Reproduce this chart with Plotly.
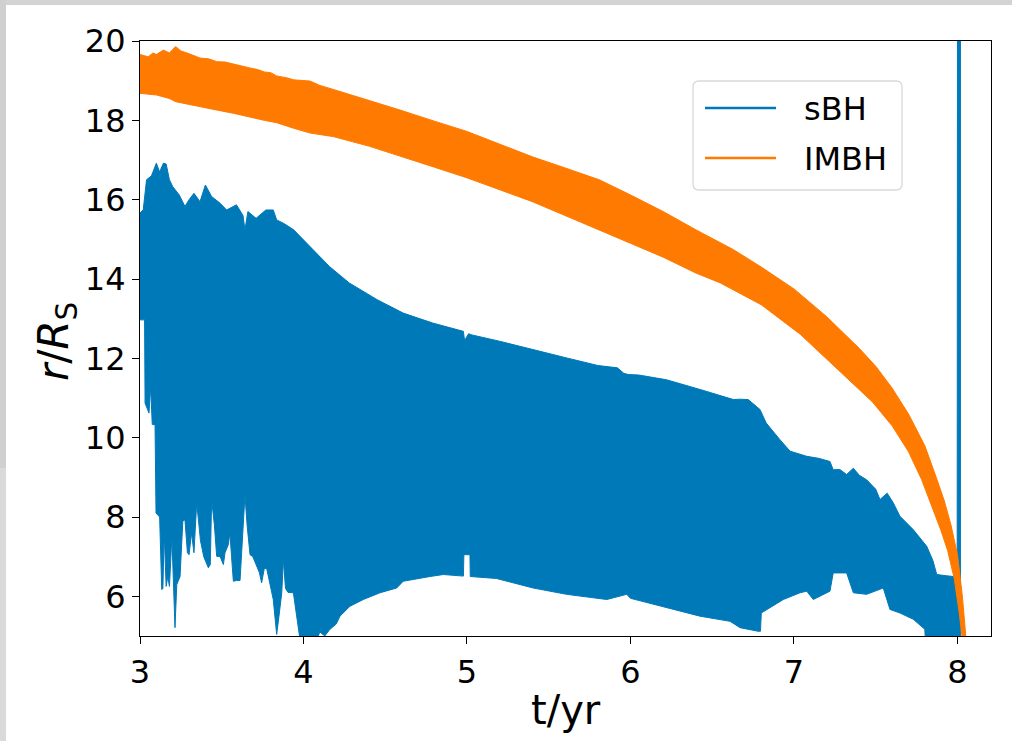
import plotly.graph_objects as go

# ---------------- data ----------------
# sBH: envelope of the fast radial oscillation (upper / lower edges)
SBH_T_UP = [3.000, 3.020, 3.040, 3.070, 3.100, 3.120, 3.143, 3.160, 3.180, 3.200, 3.240, 3.275,
            3.300, 3.330, 3.367, 3.400, 3.438, 3.490, 3.530, 3.590, 3.630, 3.642, 3.660, 3.710,
            3.770, 3.815, 3.836, 3.880, 3.940, 4.040, 4.160, 4.280, 4.450, 4.610, 4.790, 4.978,
            4.985, 5.010, 5.030, 5.200, 5.400, 5.610, 5.800, 5.920, 5.960, 5.990, 6.050, 6.220,
            6.430, 6.550, 6.630, 6.670, 6.720, 6.792, 6.830, 6.914, 6.976, 7.078, 7.150, 7.220,
            7.240, 7.280, 7.322, 7.363, 7.400, 7.444, 7.500, 7.526, 7.570, 7.607, 7.648, 7.730,
            7.812, 7.850, 7.873, 7.930, 7.975, 7.998, 8.000, 8.018]
SBH_R_UP = [15.66, 15.75, 16.50, 16.60, 16.92, 16.70, 16.92, 16.90, 16.50, 16.33, 16.12, 15.83,
            16.00, 16.16, 15.95, 16.37, 16.08, 15.91, 15.74, 15.87, 15.60, 15.24, 15.70, 15.53,
            15.74, 15.74, 15.49, 15.40, 15.24, 14.82, 14.31, 13.90, 13.48, 13.14, 12.89, 12.68,
            12.45, 12.62, 12.59, 12.43, 12.22, 12.01, 11.82, 11.76, 11.62, 11.59, 11.58, 11.46,
            11.21, 11.06, 10.96, 10.97, 10.96, 10.71, 10.37, 9.95, 9.66, 9.53, 9.48, 9.40,
            9.19, 9.20, 9.07, 9.23, 9.05, 8.94, 8.70, 8.44, 8.60, 8.36, 8.02, 7.68,
            7.26, 6.90, 6.55, 6.52, 6.50, 6.45, 21.0, 21.0]

SBH_T_LO = [3.000, 3.028, 3.031, 3.055, 3.065, 3.075, 3.092, 3.098, 3.120, 3.133, 3.140, 3.148,
            3.160, 3.170, 3.180, 3.195, 3.205, 3.214, 3.225, 3.245, 3.262, 3.275, 3.290, 3.300,
            3.315, 3.330, 3.347, 3.360, 3.370, 3.390, 3.418, 3.430, 3.438, 3.455, 3.469, 3.490,
            3.510, 3.520, 3.540, 3.550, 3.560, 3.571, 3.590, 3.612, 3.625, 3.642, 3.655, 3.673,
            3.690, 3.714, 3.730, 3.744, 3.760, 3.775, 3.795, 3.815, 3.836, 3.850, 3.867, 3.877,
            3.890, 3.905, 3.938, 3.955, 3.968, 3.979, 4.080, 4.100, 4.130, 4.162, 4.200, 4.223,
            4.284, 4.366, 4.468, 4.570, 4.610, 4.774, 4.855, 4.978, 4.981, 5.018, 5.020, 5.180,
            5.405, 5.610, 5.855, 5.977, 6.000, 6.220, 6.425, 6.609, 6.670, 6.780, 6.795, 6.800,
            6.935, 7.037, 7.078, 7.118, 7.220, 7.240, 7.322, 7.363, 7.444, 7.546, 7.587, 7.648,
            7.730, 7.800, 7.810, 8.018]
SBH_R_LO = [12.97, 12.97, 10.87, 10.62, 11.29, 10.33, 10.33, 8.10, 8.00, 6.17, 6.20, 7.60,
            6.25, 6.50, 6.25, 7.50, 6.30, 5.21, 6.30, 6.50, 7.90, 7.93, 7.10, 7.05,
            7.60, 7.10, 8.36, 7.90, 7.40, 7.00, 6.72, 6.80, 8.44, 7.80, 7.01, 7.00,
            6.80, 7.10, 7.30, 7.60, 7.00, 6.38, 6.40, 6.40, 7.50, 8.56, 7.80, 7.05,
            7.00, 6.76, 6.60, 6.34, 6.70, 6.70, 6.30, 5.92, 5.04, 5.50, 6.09, 6.93,
            6.20, 6.10, 6.09, 5.60, 5.25, 4.90, 4.90, 5.10, 5.00, 5.17, 5.30, 5.50,
            5.75, 5.92, 6.09, 6.21, 6.38, 6.50, 6.55, 6.51, 7.05, 7.05, 6.50, 6.45,
            6.21, 6.05, 5.92, 6.05, 5.95, 5.71, 5.50, 5.37, 5.21, 5.12, 5.12, 5.58,
            5.92, 6.09, 6.13, 5.92, 6.13, 6.59, 6.59, 6.09, 6.05, 6.21, 5.67, 5.58,
            5.42, 5.17, 4.50, 4.50]

# IMBH: envelope of its oscillation
IMBH_T_UP = [3.00, 3.05, 3.08, 3.10, 3.143, 3.18, 3.218, 3.25, 3.30, 3.367, 3.42, 3.469, 3.52,
             3.57, 3.62, 3.673, 3.72, 3.76, 3.80, 3.836, 3.90, 3.94, 4.04, 4.10, 4.182, 4.30,
             4.40, 4.50, 4.59, 4.80, 5.00, 5.20, 5.40, 5.60, 5.81, 6.00, 6.20, 6.40, 6.63,
             6.80, 7.00, 7.20, 7.40, 7.50, 7.60, 7.70, 7.80, 7.87, 7.92, 7.96, 8.00, 8.03,
             8.045, 8.055]
IMBH_R_UP = [19.66, 19.60, 19.70, 19.66, 19.77, 19.70, 19.86, 19.75, 19.68, 19.57, 19.55, 19.48,
             19.47, 19.42, 19.36, 19.32, 19.28, 19.22, 19.20, 19.12, 19.07, 19.02, 18.99, 18.88,
             18.78, 18.63, 18.52, 18.38, 18.26, 17.98, 17.72, 17.40, 17.08, 16.80, 16.50, 16.12,
             15.70, 15.24, 14.74, 14.30, 13.75, 13.05, 12.25, 11.80, 11.25, 10.60, 9.80, 9.00,
             8.40, 7.80, 7.05, 6.00, 5.30, 4.80]
IMBH_T_LO = [3.00, 3.10, 3.143, 3.18, 3.218, 3.27, 3.367, 3.469, 3.57, 3.673, 3.76, 3.836,
             3.94, 4.04, 4.182, 4.40, 4.59, 4.80, 5.00, 5.20, 5.40, 5.60, 5.81, 6.00, 6.20,
             6.40, 6.55, 6.80, 7.04, 7.20, 7.35, 7.48, 7.60, 7.70, 7.78, 7.85, 7.90, 7.94,
             7.98, 8.01, 8.03]
IMBH_R_LO = [18.68, 18.64, 18.60, 18.55, 18.47, 18.42, 18.35, 18.26, 18.18, 18.09, 18.00, 17.94,
             17.80, 17.68, 17.59, 17.35, 17.09, 16.82, 16.55, 16.25, 15.95, 15.60, 15.24, 14.90,
             14.55, 14.15, 13.90, 13.35, 12.60, 12.00, 11.40, 10.90, 10.30, 9.65, 8.95, 8.20,
             7.65, 7.15, 6.45, 5.60, 4.90]

SERIES = ["sBH", "IMBH"]
X_TICKS = [3, 4, 5, 6, 7, 8]
Y_TICKS = [6, 8, 10, 12, 14, 16, 18, 20]

# ---------------- styling ----------------
BLUE = "#0079b9"
ORANGE = "#ff7a00"
FONT = "DejaVu Sans"
W, H = 1012, 741
L, R, T, B = 140, 991, 41, 636


def xp(px):
    return (px - L) / (R - L)


def yp(py):
    return (B - py) / (B - T)


fig = go.Figure()


def band(t_up, r_up, t_lo, r_lo, color, name):
    xs = list(t_up) + list(reversed(t_lo))
    ys = list(r_up) + list(reversed(r_lo))
    fig.add_trace(go.Scatter(x=xs, y=ys, mode="lines", fill="toself", fillcolor=color,
                             line=dict(color=color, width=1), name=name, showlegend=False,
                             hoverinfo="skip"))


band(SBH_T_UP, SBH_R_UP, SBH_T_LO, SBH_R_LO, BLUE, SERIES[0])
band(IMBH_T_UP, IMBH_R_UP, IMBH_T_LO, IMBH_R_LO, ORANGE, SERIES[1])

shapes = []
annotations = []

# grey screenshot frame (top and left)
shapes.append(dict(type="rect", xref="paper", yref="paper", x0=xp(0), x1=xp(W), y0=yp(5), y1=yp(0),
                   fillcolor="#d3d3d3", line=dict(width=0), layer="above"))
shapes.append(dict(type="rect", xref="paper", yref="paper", x0=xp(0), x1=xp(6), y0=yp(468), y1=yp(0),
                   fillcolor="#d0d0d0", line=dict(width=0), layer="above"))
shapes.append(dict(type="rect", xref="paper", yref="paper", x0=xp(0), x1=xp(6), y0=yp(H), y1=yp(468),
                   fillcolor="#dadada", line=dict(width=0), layer="above"))

# legend box with rounded corners
lx0, lx1, ly0, ly1, rad = 693, 902, 81, 190, 6
path = (f"M {xp(lx0+rad)},{yp(ly0)} L {xp(lx1-rad)},{yp(ly0)} Q {xp(lx1)},{yp(ly0)} {xp(lx1)},{yp(ly0+rad)} "
        f"L {xp(lx1)},{yp(ly1-rad)} Q {xp(lx1)},{yp(ly1)} {xp(lx1-rad)},{yp(ly1)} "
        f"L {xp(lx0+rad)},{yp(ly1)} Q {xp(lx0)},{yp(ly1)} {xp(lx0)},{yp(ly1-rad)} "
        f"L {xp(lx0)},{yp(ly0+rad)} Q {xp(lx0)},{yp(ly0)} {xp(lx0+rad)},{yp(ly0)} Z")
shapes.append(dict(type="path", xref="paper", yref="paper", path=path,
                   fillcolor="rgba(255,255,255,0.8)", line=dict(color="#d9d9d9", width=1.3),
                   layer="above"))
for name, color, ly in [(SERIES[0], BLUE, 108), (SERIES[1], ORANGE, 158)]:
    shapes.append(dict(type="line", xref="paper", yref="paper", x0=xp(705), x1=xp(776),
                       y0=yp(ly), y1=yp(ly), line=dict(color=color, width=2.3), layer="above"))
    annotations.append(dict(xref="paper", yref="paper", x=xp(802), y=yp(ly + 1), text=name,
                            showarrow=False, xanchor="left", yanchor="middle",
                            font=dict(family=FONT, size=32, color="black")))

# axis titles
annotations.append(dict(xref="paper", yref="paper", x=xp(566), y=yp(710), text="t/yr",
                        showarrow=False, xanchor="center", yanchor="middle",
                        font=dict(family=FONT, size=40, color="black")))
annotations.append(dict(xref="paper", yref="paper", x=xp(56), y=yp(342),
                        text="<i>r</i>/<i>R</i><sub>S</sub>", textangle=-90,
                        showarrow=False, xanchor="center", yanchor="middle",
                        font=dict(family=FONT, size=42, color="black")))

fig.update_layout(
    width=W, height=H,
    margin=dict(l=L, r=W - R, t=T, b=H - B),
    paper_bgcolor="white", plot_bgcolor="white",
    showlegend=False,
    shapes=shapes, annotations=annotations,
    font=dict(family=FONT, color="black"),
)
fig.update_xaxes(range=[3, 8.205], tickvals=X_TICKS, ticktext=[str(v) for v in X_TICKS],
                 showgrid=False, zeroline=False, showline=True, linecolor="black", linewidth=1.2,
                 mirror=True, ticks="outside", ticklen=7, tickwidth=1.2, tickcolor="black",
                 tickfont=dict(family=FONT, size=32, color="black"))
fig.update_yaxes(range=[5, 20], tickvals=Y_TICKS, ticktext=[str(v) for v in Y_TICKS],
                 showgrid=False, zeroline=False, showline=True, linecolor="black", linewidth=1.2,
                 mirror=True, ticks="outside", ticklen=7, tickwidth=1.2, tickcolor="black",
                 tickfont=dict(family=FONT, size=32, color="black"))

fig.write_html("out.html")
